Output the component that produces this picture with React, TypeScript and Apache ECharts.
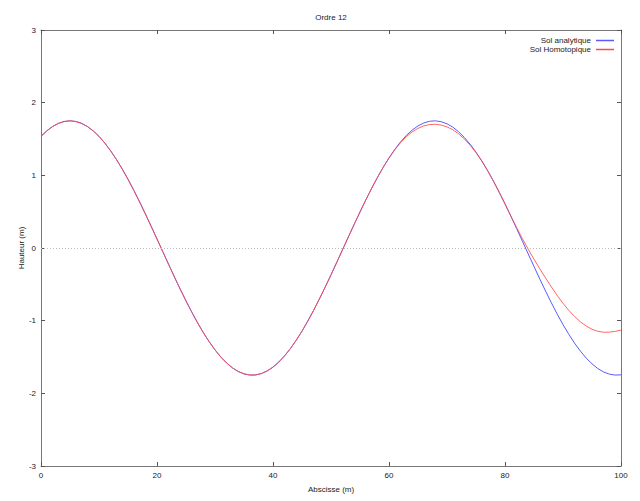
import React, { useEffect, useRef } from "react";
import * as echarts from "echarts";

const xs: number[] = Array.from({ length: 101 }, (_, i) => i);

const analytique: number[] = [
  1.536, 1.612, 1.672, 1.715, 1.741, 1.75, 1.741, 1.715, 1.672, 1.612,
  1.536, 1.444, 1.338, 1.219, 1.088, 0.946, 0.794, 0.634, 0.468, 0.297,
  0.124, -0.051, -0.225, -0.398, -0.566, -0.728, -0.883, -1.03, -1.166, -1.29,
  -1.402, -1.5, -1.582, -1.649, -1.699, -1.732, -1.748, -1.747, -1.728, -1.692,
  -1.639, -1.569, -1.484, -1.384, -1.27, -1.144, -1.006, -0.858, -0.701, -0.538,
  -0.369, -0.196, -0.022, 0.153, 0.326, 0.496, 0.661, 0.82, 0.97, 1.111,
  1.24, 1.357, 1.461, 1.55, 1.623, 1.68, 1.721, 1.744, 1.75, 1.738,
  1.709, 1.663, 1.6, 1.521, 1.427, 1.319, 1.199, 1.065, 0.921, 0.768,
  0.607, 0.439, 0.268, 0.094, -0.081, -0.255, -0.426, -0.594, -0.755, -0.909,
  -1.054, -1.188, -1.31, -1.419, -1.515, -1.594, -1.659, -1.706, -1.736, -1.749,
  -1.745,
];

const homotopique: number[] = [
  1.536, 1.612, 1.672, 1.715, 1.741, 1.75, 1.741, 1.715, 1.672, 1.612,
  1.536, 1.444, 1.338, 1.219, 1.088, 0.946, 0.794, 0.634, 0.468, 0.297,
  0.124, -0.051, -0.225, -0.398, -0.566, -0.728, -0.883, -1.03, -1.166, -1.29,
  -1.402, -1.5, -1.582, -1.649, -1.699, -1.732, -1.748, -1.747, -1.728, -1.692,
  -1.639, -1.569, -1.484, -1.384, -1.27, -1.144, -1.006, -0.858, -0.701, -0.538,
  -0.369, -0.196, -0.022, 0.153, 0.326, 0.496, 0.661, 0.82, 0.97, 1.111,
  1.238, 1.352, 1.451, 1.533, 1.598, 1.647, 1.681, 1.699, 1.703, 1.692,
  1.667, 1.627, 1.572, 1.501, 1.414, 1.312, 1.196, 1.065, 0.921, 0.768,
  0.607, 0.442, 0.282, 0.128, -0.016, -0.155, -0.287, -0.412, -0.536, -0.653,
  -0.761, -0.858, -0.943, -1.016, -1.074, -1.118, -1.146, -1.159, -1.158, -1.147,
  -1.13,
];

const xTicks = { min: 0, max: 100, interval: 20 };
const yTicks = { min: -3, max: 3, interval: 1 };

const FONT = "'Liberation Sans', Arial, sans-serif";

export default function App() {
  const ref = useRef<HTMLDivElement>(null);
  useEffect(() => {
    if (!ref.current) return;
    const chart = echarts.init(ref.current, undefined, { renderer: "svg" });
    const axisLine = { show: true, onZero: false, lineStyle: { color: "#777", width: 1 } };
    const tick = { show: true, inside: true, length: 4, lineStyle: { color: "#555" } };
    chart.setOption({
      animation: false,
      backgroundColor: "#fff",
      grid: { left: 41, right: 19, top: 30, bottom: 35, containLabel: false },
      graphic: [
        {
          type: "text",
          x: 331,
          y: 13,
          style: {
            text: "Ordre 12",
            fill: "#222",
            font: `8px ${FONT}`,
            textAlign: "center",
          },
        },
      ],
      legend: {
        orient: "vertical",
        right: 21,
        top: 31,
        align: "right",
        itemWidth: 18,
        itemHeight: 1.5,
        itemGap: 0,
        icon: "rect",
        textStyle: {
          fontSize: 8,
          lineHeight: 9,
          color: "#222",
          fontFamily: FONT,
          padding: [0, 0, 0, 0],
        },
        data: ["Sol analytique", "Sol Homotopique"],
      },
      xAxis: [
        {
          type: "value",
          ...xTicks,
          name: "Abscisse (m)",
          nameLocation: "middle",
          nameGap: 19,
          nameMoveOverlap: false,
          nameTextStyle: { fontSize: 8, color: "#222", fontFamily: FONT },
          axisLine,
          axisTick: tick,
          axisLabel: { fontSize: 8, color: "#222", fontFamily: FONT, margin: 5 },
          splitLine: { show: false },
        },
        {
          type: "value",
          position: "top",
          ...xTicks,
          axisLine,
          axisTick: tick,
          axisLabel: { show: false },
          splitLine: { show: false },
        },
      ],
      yAxis: [
        {
          type: "value",
          ...yTicks,
          name: "Hauteur (m)",
          nameLocation: "middle",
          nameGap: 16,
          nameMoveOverlap: false,
          nameTextStyle: { fontSize: 8, color: "#222", fontFamily: FONT },
          axisLine,
          axisTick: tick,
          axisLabel: { fontSize: 8, color: "#222", fontFamily: FONT, margin: 5 },
          splitLine: { show: false },
        },
        {
          type: "value",
          position: "right",
          ...yTicks,
          axisLine,
          axisTick: tick,
          axisLabel: { show: false },
          splitLine: { show: false },
        },
      ],
      series: [
        {
          name: "Sol analytique",
          type: "line",
          showSymbol: false,
          symbol: "none",
          color: "#5a5aff",
          lineStyle: { width: 1, color: "#5a5aff" },
          data: xs.map((x, i) => [x, analytique[i]]),
          markLine: {
            silent: true,
            symbol: "none",
            label: { show: false },
            lineStyle: { type: [1, 2], color: "#bbb", width: 1 },
            data: [{ yAxis: 0 }],
          },
          z: 2,
        },
        {
          name: "Sol Homotopique",
          type: "line",
          showSymbol: false,
          symbol: "none",
          color: "#ff4a4a",
          lineStyle: { width: 1, color: "#ff4a4a", opacity: 0.85 },
          data: xs.map((x, i) => [x, homotopique[i]]),
          z: 3,
        },
      ],
    });
    return () => chart.dispose();
  }, []);
  return <div ref={ref} style={{ width: 640, height: 501, position: "absolute", left: 0, top: 0 }} />;
}
